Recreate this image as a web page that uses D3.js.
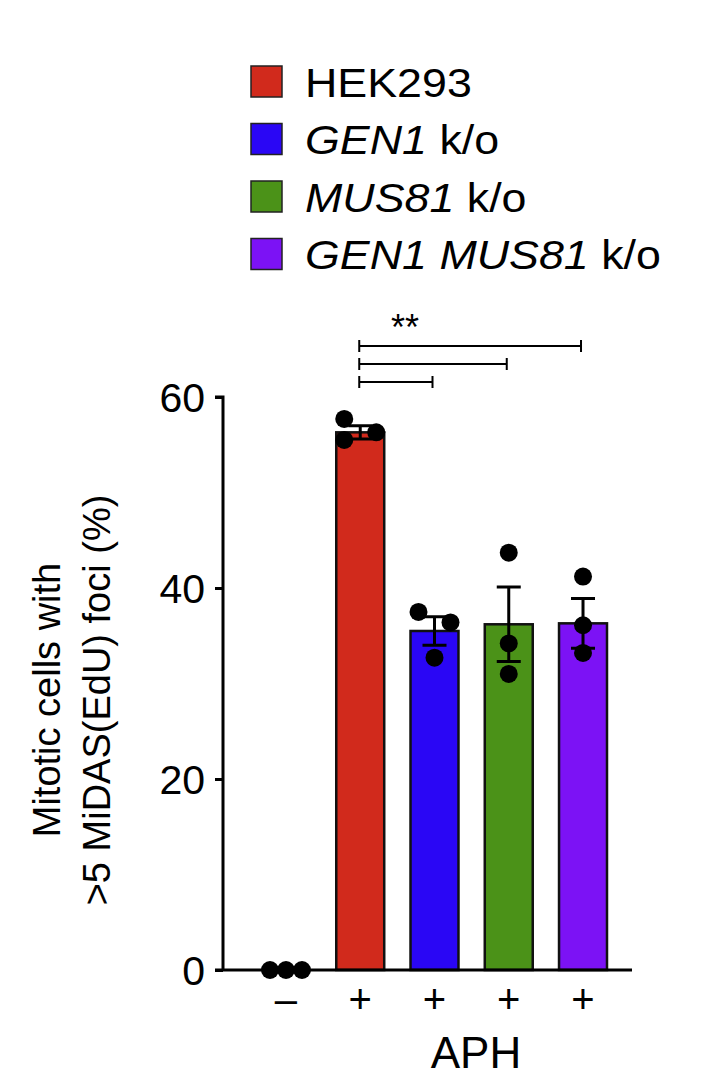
<!DOCTYPE html>
<html><head><meta charset="utf-8">
<script src="https://cdn.jsdelivr.net/npm/d3@7"></script>
<style>body{margin:0;background:#fff}text{font-family:"Liberation Sans",Arial,sans-serif}</style>
</head><body><svg id="c" width="709" height="1089"></svg>
<script>
const groups = ["ctrl", "HEK293", "GEN1", "MUS81", "DKO"];
const aph = ["–", "+", "+", "+", "+"];
const means = [0, 56.3, 35.5, 36.2, 36.3];
const errs = [0, 0.7, 1.5, 3.9, 2.6];
const points = [[0, 0, 0], [57.7, 55.5, 56.3], [37.5, 36.4, 32.7], [43.7, 34.2, 31.0], [41.2, 36.1, 33.2]];
const colors = [null, "#d12a1c", "#2a06f5", "#4b9218", "#7c12f5"];
const legend = [
  [{t: "HEK293", i: false}],
  [{t: "GEN1", i: true}, {t: " k/o", i: false}],
  [{t: "MUS81", i: true}, {t: " k/o", i: false}],
  [{t: "GEN1 MUS81", i: true}, {t: " k/o", i: false}]
];
const yTicks = [0, 20, 40, 60];
const brackets = [[1, 4, 346], [1, 3, 364], [1, 2, 382]];

const svg = d3.select("#c");
const x = d3.scaleBand().domain(groups).range([262, 607]).paddingInner(0.354).paddingOuter(0);
const y = d3.scaleLinear().domain([0, 60]).range([970, 397]);

// legend
legend.forEach((row, k) => {
  const cy = 82 + k * 57.5;
  svg.append("rect").attr("x", 251).attr("y", cy - 16).attr("width", 31).attr("height", 31)
    .attr("fill", colors[k + 1]).attr("stroke", "#222").attr("stroke-width", 1.5);
  const t = svg.append("text").attr("x", 305).attr("y", cy + 15).attr("font-size", 40)
    .attr("transform", `translate(305,0) scale(1.12,1) translate(-305,0)`);
  row.forEach(s => t.append("tspan").text(s.t).attr("font-style", s.i ? "italic" : "normal"));
});

// y axis
const ya = svg.append("g").attr("transform", "translate(223,0)")
  .call(d3.axisLeft(y).tickValues(yTicks).tickSize(8).tickPadding(10));
ya.select(".domain").attr("stroke-width", 3).attr("d", "M-8,397H0V970");
ya.selectAll(".tick line").attr("stroke-width", 3);
ya.selectAll("text").attr("font-size", 41).attr("font-family", "Liberation Sans, Arial").attr("dy", "0.35em");

svg.append("text").attr("transform", "translate(60,700) rotate(-90)").attr("text-anchor", "middle")
  .attr("font-size", 38).selectAll("tspan").data(["Mitotic cells with", ">5 MiDAS(EdU) foci (%)"]).join("tspan")
  .attr("x", 0).attr("dy", (d, i) => i ? 50 : 0).text(d => d);

const cx = g => x(g) + x.bandwidth() / 2;

// bars
svg.selectAll("rect.bar").data(groups.slice(1)).join("rect").attr("class", "bar")
  .attr("x", g => x(g)).attr("width", x.bandwidth())
  .attr("y", (g) => y(means[groups.indexOf(g)])).attr("height", g => y(0) - y(means[groups.indexOf(g)]))
  .attr("fill", g => colors[groups.indexOf(g)]).attr("stroke", "#111").attr("stroke-width", 2.5);

// x axis line
svg.append("line").attr("x1", 215).attr("x2", 632).attr("y1", y(0)).attr("y2", y(0)).attr("stroke", "#000").attr("stroke-width", 3);

// error bars
groups.forEach((g, i) => {
  if (!errs[i]) return;
  const c = cx(g), hw = 12;
  svg.append("path").attr("d", `M${c},${y(means[i] - errs[i])}V${y(means[i] + errs[i])}M${c - hw},${y(means[i] + errs[i])}H${c + hw}M${c - hw},${y(means[i] - errs[i])}H${c + hw}`)
    .attr("stroke", "#000").attr("stroke-width", 3).attr("fill", "none");
});

// points
const offs = [[-16, 0, 16], [-16, -16, 16], [-16, 16, 0], [0, 0, 0], [0, 0, 0]];
groups.forEach((g, i) => {
  svg.selectAll(null).data(points[i]).join("circle")
    .attr("cx", (d, j) => cx(g) + offs[i][j]).attr("cy", d => y(d)).attr("r", 9).attr("fill", "#000");
});

// x labels
svg.selectAll("text.xl").data(groups).join("text").attr("class", "xl")
  .attr("x", g => cx(g)).attr("y", 1013).attr("text-anchor", "middle").attr("font-size", 40)
  .text((g, i) => aph[i]);
svg.append("text").attr("x", 476).attr("y", 1068).attr("text-anchor", "middle").attr("font-size", 44).text("APH");

// significance brackets
brackets.forEach(([a, b, yy]) => {
  const x1 = cx(groups[a]) - 1, x2 = cx(groups[b]) - 2;
  svg.append("path").attr("d", `M${x1},${yy - 6}V${yy + 6}M${x1},${yy}H${x2}M${x2},${yy - 6}V${yy + 6}`)
    .attr("stroke", "#000").attr("stroke-width", 2).attr("fill", "none");
});
svg.append("text").attr("x", 405).attr("y", 340).attr("text-anchor", "middle").attr("font-size", 36).text("**");
</script></body></html>
